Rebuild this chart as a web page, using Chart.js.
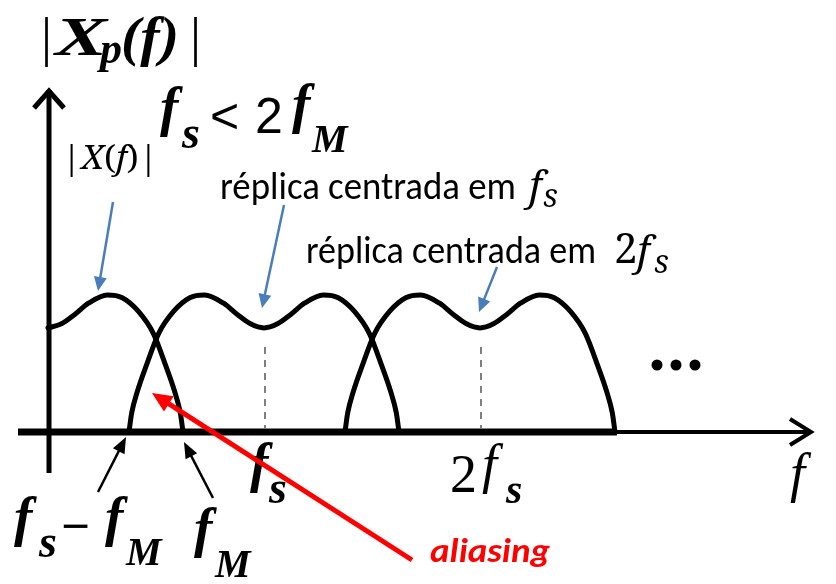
<!DOCTYPE html>
<html>
<head>
<meta charset="utf-8">
<script src="https://cdn.jsdelivr.net/npm/chart.js@4.4.1/dist/chart.umd.min.js"></script>
<style>
  html, body { margin: 0; padding: 0; background: #fff; }
  canvas { display: block; }
</style>
</head>
<body>
<canvas id="spectrum" width="836" height="584"></canvas>
<script>
// frequencies in units of fM, magnitude in units of the peak of |X(f)|
const F_M = 1
const F_S = 1.6
const replicaCenters = [0, F_S, 2 * F_S]

// one half of |X(f)| (u = |f| / fM)
const shapeU = [0, 0.1, 0.2, 0.3, 0.44, 0.55, 0.67, 0.78, 0.87, 0.94, 0.98, 1.0]
const shapeH = [0.76, 0.79, 0.86, 0.94, 1.0, 0.98, 0.88, 0.72, 0.49, 0.29, 0.14, 0.0]

const dashTop = 0.62

const BLUE = '#4a7ebb'
const RED  = '#ff0000'
const TB   = n => `italic bold ${n}px "Liberation Serif"`
const TI   = n => `italic ${n}px "Liberation Serif"`
const TR   = n => `${n}px "Liberation Serif"`
const CM   = n => `italic ${n}px "Noto Serif"`
const CMR  = n => `${n}px "Noto Serif"`
const CAL  = n => `${n}px Carlito`

function spectrum(center, twoSided) {
  const pts = []
  if (twoSided) {
    for (let i = shapeU.length - 1; i > 0; i--) pts.push({ x: center - shapeU[i] * F_M, y: shapeH[i] })
  }
  shapeU.forEach((u, i) => pts.push({ x: center + u * F_M, y: shapeH[i] }))
  return pts
}

function txt(ctx, s, font, x, y, w, color) {
  ctx.save()
  ctx.font = font
  ctx.fillStyle = color || '#000'
  ctx.textBaseline = 'alphabetic'
  ctx.textAlign = 'left'
  ctx.translate(x, y)
  if (w) ctx.scale(w / ctx.measureText(s).width, 1)
  ctx.fillText(s, 0, 0)
  ctx.restore()
}

// pieces of mixed fonts on one baseline, squeezed to a total width
function seq(ctx, parts, x, y, w) {
  let total = 0
  parts.forEach(([s, font]) => { ctx.font = font; total += ctx.measureText(s).width })
  const k = w ? w / total : 1
  parts.forEach(([s, font]) => {
    ctx.font = font
    const pw = ctx.measureText(s).width * k
    txt(ctx, s, font, x, y, pw)
    x += pw
  })
}

function arrow(ctx, x1, y1, x2, y2, color, width, headLen, headW) {
  const a = Math.atan2(y2 - y1, x2 - x1)
  ctx.save()
  ctx.strokeStyle = color
  ctx.fillStyle = color
  ctx.lineWidth = width
  ctx.beginPath()
  ctx.moveTo(x1, y1)
  ctx.lineTo(x2 - Math.cos(a) * headLen * 0.8, y2 - Math.sin(a) * headLen * 0.8)
  ctx.stroke()
  ctx.translate(x2, y2)
  ctx.rotate(a)
  ctx.beginPath()
  ctx.moveTo(0, 0)
  ctx.lineTo(-headLen, -headW / 2)
  ctx.lineTo(-headLen, headW / 2)
  ctx.closePath()
  ctx.fill()
  ctx.restore()
}

const axesPlugin = {
  id: 'axes',
  beforeDatasetsDraw(chart) {
    const { ctx, scales: { x, y } } = chart
    const x0 = x.getPixelForValue(0)
    const y0 = y.getPixelForValue(0)
    const xEnd = x.getPixelForValue(replicaCenters[2] + F_M)
    ctx.save()
    ctx.strokeStyle = '#000'
    ctx.lineCap = 'butt'
    // vertical axis
    ctx.lineWidth = 5
    ctx.beginPath()
    ctx.moveTo(x0 + 1, 473)
    ctx.lineTo(x0 + 1, 90)
    ctx.stroke()
    ctx.lineJoin = 'miter'
    ctx.beginPath()
    ctx.moveTo(x0 - 14, 108)
    ctx.lineTo(x0 + 1, 91)
    ctx.lineTo(x0 + 16, 108)
    ctx.stroke()
    // horizontal axis
    ctx.lineWidth = 7
    ctx.beginPath()
    ctx.moveTo(18, y0)
    ctx.lineTo(xEnd + 2, y0)
    ctx.stroke()
    ctx.lineWidth = 4
    ctx.beginPath()
    ctx.moveTo(xEnd, y0)
    ctx.lineTo(810, y0)
    ctx.stroke()
    ctx.beginPath()
    ctx.moveTo(790, y0 - 13)
    ctx.lineTo(811, y0)
    ctx.lineTo(790, y0 + 13)
    ctx.stroke()
    // dashed centre lines of the replicas
    ctx.strokeStyle = '#555'
    ctx.lineWidth = 1.5
    ctx.setLineDash([7, 6])
    replicaCenters.slice(1).forEach(c => {
      const px = x.getPixelForValue(c) + 1
      ctx.beginPath()
      ctx.moveTo(px, y.getPixelForValue(dashTop))
      ctx.lineTo(px, y0 - 4)
      ctx.stroke()
    })
    ctx.restore()
  },
  afterDatasetsDraw(chart) {
    const { ctx } = chart
    ctx.save()
    // title |Xp(f)|
    txt(ctx, '|', TR(55), 41, 55)
    txt(ctx, 'X', TB(55), 55, 55, 52)
    txt(ctx, 'p', TB(44), 100, 63)
    txt(ctx, '(f)', TB(55), 121, 55, 58)
    txt(ctx, '|', TR(55), 190, 55)

    // fs < 2fM
    txt(ctx, 'f', TB(55), 160, 125)
    txt(ctx, 's', TB(46), 182, 148)
    txt(ctx, '<', '50px "Liberation Sans"', 210, 133)
    txt(ctx, '2', '50px "Liberation Sans"', 255, 133)
    txt(ctx, 'f', TB(55), 292, 122)
    txt(ctx, 'M', TB(40), 312, 152)

    // |X(f)|
    seq(ctx, [['|', CMR(32)], ['X', CM(32)], ['(', CMR(32)], ['f', CM(32)], [')', CMR(32)], ['|', CMR(32)]], 62, 169, 96)

    // réplica labels
    txt(ctx, 'réplica centrada em', CAL(38), 220, 199, 296)
    txt(ctx, 'f', CM(40), 529, 200)
    txt(ctx, 's', CM(32), 543, 207)
    txt(ctx, 'réplica centrada em', CAL(38), 306, 263, 290)
    txt(ctx, '2', CMR(42), 614, 263)
    txt(ctx, 'f', CM(40), 637, 265)
    txt(ctx, 's', CM(32), 654, 273)

    // blue pointers
    arrow(ctx, 113, 202, 98, 291, BLUE, 2.5, 14, 13)
    arrow(ctx, 284, 205, 262, 308, BLUE, 2.5, 14, 13)
    arrow(ctx, 497, 267, 479, 312, BLUE, 2.5, 14, 13)

    // continuation dots
    ctx.fillStyle = '#000'
    ;[657, 676, 695].forEach(cx => {
      ctx.beginPath()
      ctx.arc(cx, 365, 5.5, 0, Math.PI * 2)
      ctx.fill()
    })

    // black pointers to fs - fM and fM
    arrow(ctx, 98, 492, 126, 437, '#000', 2.5, 16, 13)
    arrow(ctx, 213, 498, 184, 442, '#000', 2.5, 16, 13)

    // axis labels
    txt(ctx, 'f', TB(55), 14, 535)
    txt(ctx, 's', TB(46), 39, 557)
    txt(ctx, '\u2212', 'bold 48px "Liberation Serif"', 61, 542, 29)
    txt(ctx, 'f', TB(55), 105, 535)
    txt(ctx, 'M', TB(40), 126, 565)

    txt(ctx, 'f', TB(55), 194, 546)
    txt(ctx, 'M', TB(40), 215, 577)

    txt(ctx, 'f', TB(55), 250, 481)
    txt(ctx, 's', TB(46), 269, 503)

    txt(ctx, '2', TR(54), 450, 492)
    txt(ctx, 'f', TI(54), 482, 482)
    txt(ctx, 's', TB(42), 506, 503)

    txt(ctx, 'f', TI(54), 790, 491)

    // aliasing pointer
    arrow(ctx, 412, 560, 152, 393, RED, 5, 20, 18)
    txt(ctx, 'aliasing', 'italic bold 35px Carlito', 430, 562, 120, RED)
    ctx.restore()
  }
}

const datasets = replicaCenters.map((c, i) => ({
  label: i === 0 ? '|X(f)|' : `réplica ${i}`,
  data: spectrum(c, i > 0),
  showLine: true,
  borderColor: '#000',
  borderWidth: 5,
  borderCapStyle: 'round',
  borderJoinStyle: 'round',
  pointRadius: 0,
  fill: false,
  cubicInterpolationMode: 'monotone'
}))

new Chart(document.getElementById('spectrum').getContext('2d'), {
  type: 'scatter',
  data: { datasets },
  options: {
    responsive: false,
    devicePixelRatio: 1,
    animation: false,
    layout: { padding: 0 },
    plugins: { legend: { display: false }, tooltip: { enabled: false } },
    scales: {
      x: { type: 'linear', display: false, min: -48 / 135, max: 788 / 135 },
      y: { type: 'linear', display: false, min: -152 / 137, max: 432 / 137 }
    }
  },
  plugins: [axesPlugin]
})
</script>
</body>
</html>
